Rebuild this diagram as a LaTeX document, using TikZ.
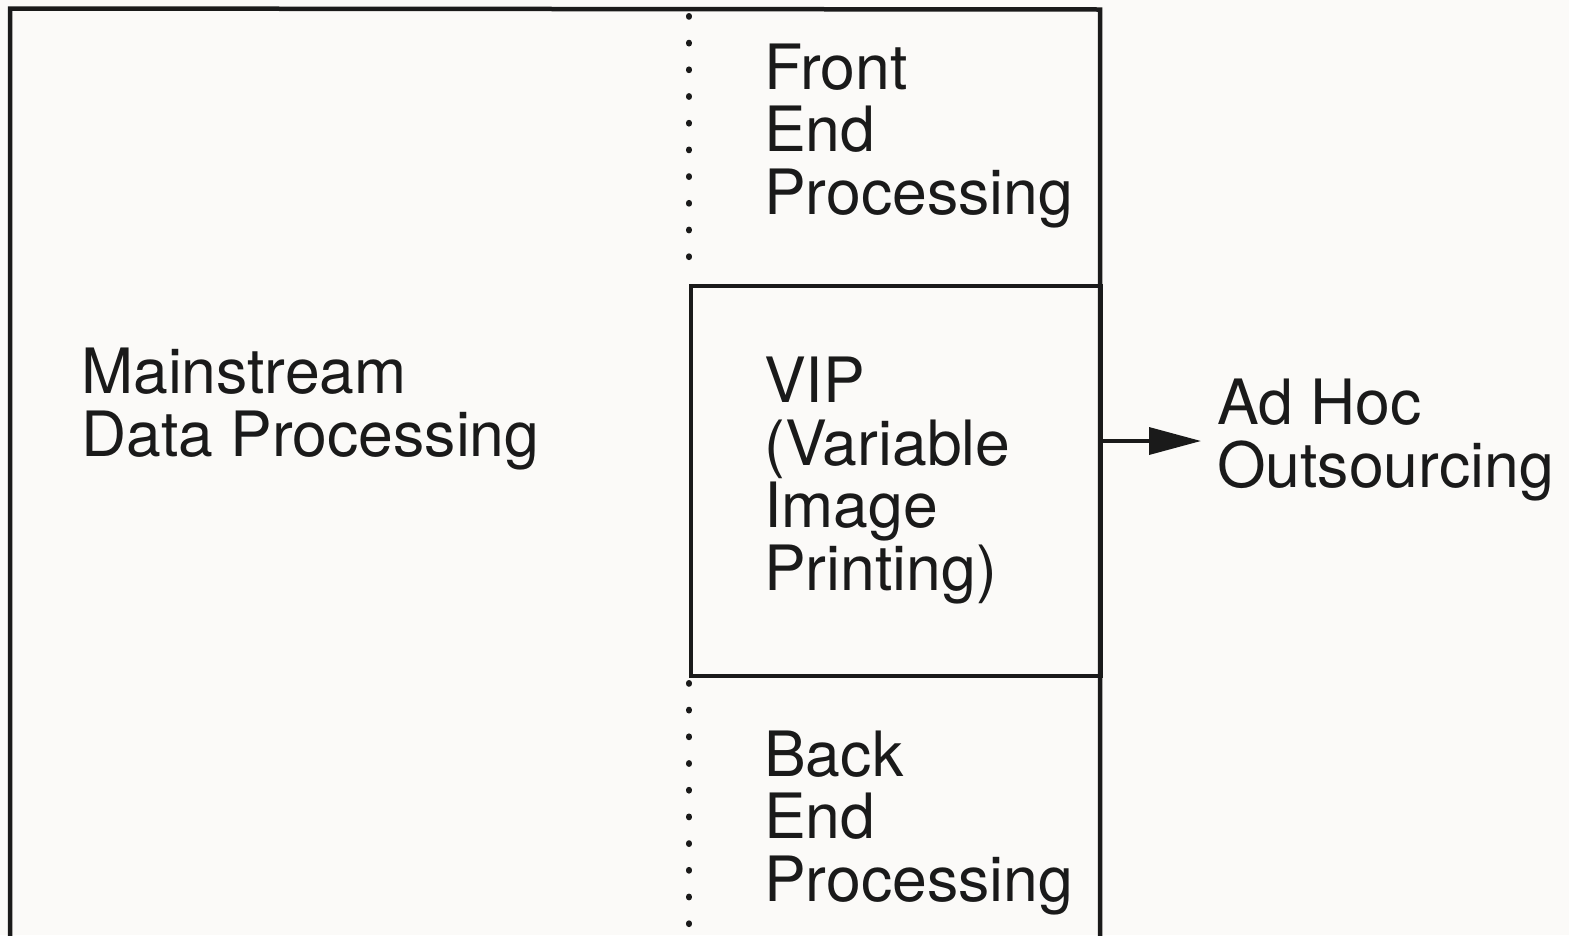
\documentclass[tikz,border=0pt]{standalone}
\usepackage{fontspec}
\setmainfont{TeX Gyre Heros}
\usetikzlibrary{arrows.meta}
\definecolor{paper}{HTML}{FBFAF8}
\definecolor{ink}{HTML}{1A1A1A}
\tikzset{
  frame/.style={draw=ink, line width=4.5pt},
  boxline/.style={draw=ink, line width=3.5pt},
  dotline/.style={draw=ink, line width=6pt, line cap=round, dash pattern=on 0.8pt off 25.9pt},
  label/.style={anchor=base west, inner sep=0pt, align=left, text=ink,
    font=\fontsize{62.5pt}{62.5pt}\selectfont},
  flow/.style={draw=ink, line width=3.5pt, -{Triangle[length=52pt,width=27pt]}}
}
\begin{document}
\begin{tikzpicture}[x=1pt,y=-1pt]
  % page
  \fill[paper] (0,0) rectangle (1569,935);
  \useasboundingbox (0,0) rectangle (1569,935);

  % outer frame, open at the bottom
  \draw[frame] (10,940) -- (10,8.5) -- (1100,9.5) -- (1100,940);

  % variable image printing box
  \node[boxline, minimum width=410pt, minimum height=390pt, inner sep=0pt, anchor=north west]
    (vip) at (689,284) {};

  % dotted boundaries of the front and back end stages
  \draw[dotline] (689,16) -- (689,262);
  \draw[dotline] (689,683) -- (689,935);

  % texts (anchored at the baseline of their last line)
  \node[label] (main) at (81,456) {Mainstream\\Data Processing};
  \node[label] (front) at (764,214) {Front\\End\\Processing};
  \node[label] (viptext) at (764,590) {VIP\\(Variable\\Image\\Printing)};
  \node[label] (back) at (764,901) {Back\\End\\Processing};
  \node[label] (adhoc) at (1217,487) {Ad Hoc\\Outsourcing};

  % arrow towards ad hoc outsourcing
  \coordinate (out) at (1099,441);
  \coordinate (tip) at (1201,441);
  \draw[flow] (out) -- (tip);
\end{tikzpicture}
\end{document}
